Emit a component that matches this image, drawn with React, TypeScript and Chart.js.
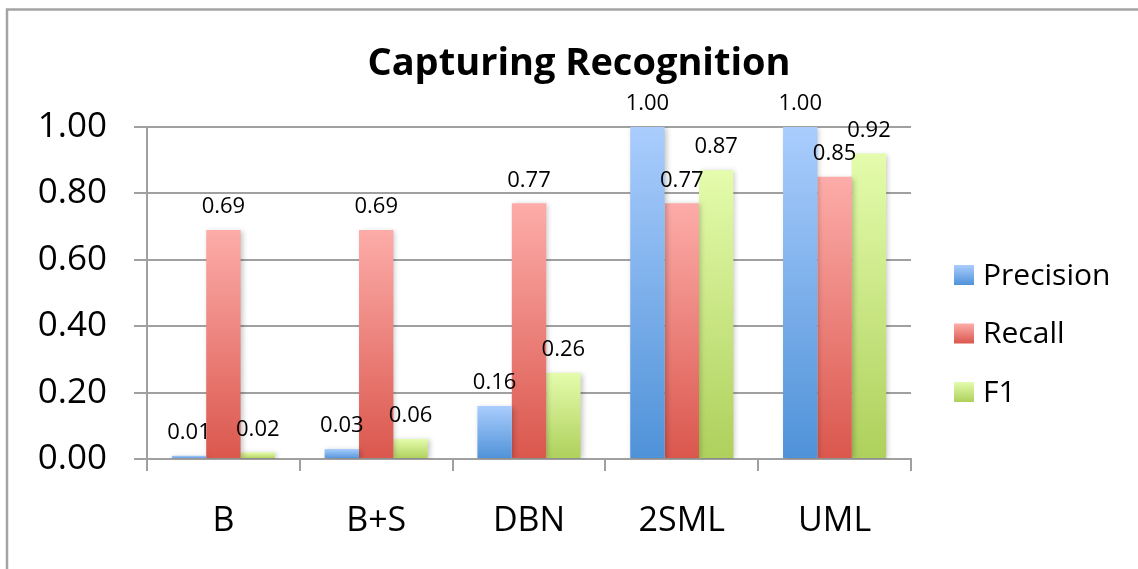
import React, { useEffect, useRef } from "react";
import { Chart, registerables } from "chart.js";

Chart.register(...registerables);

const categories = ["B", "B+S", "DBN", "2SML", "UML"];
const precision = [0.01, 0.03, 0.16, 1.0, 1.0];
const recall = [0.69, 0.69, 0.77, 0.77, 0.85];
const f1 = [0.02, 0.06, 0.26, 0.87, 0.92];
const seriesNames = ["Precision", "Recall", "F1"];
const yTicks = [0, 0.2, 0.4, 0.6, 0.8, 1.0];
const titleText = "Capturing Recognition";

const gradients: [string, string][] = [
  ["#aacdfd", "#4f92d8"],
  ["#fdaca9", "#da574d"],
  ["#e4fcac", "#aed05c"],
];

const FONT = '"Open Sans", "Noto Sans", sans-serif';
const GRID = "#a0a0a0";

function barFill(idx: number) {
  return (ctx: any) => {
    const chart = ctx.chart;
    const [top, bot] = gradients[idx];
    if (!chart.chartArea || ctx.type !== "data") return bot;
    const y = chart.scales.y;
    const y0 = y.getPixelForValue(ctx.raw);
    const y1 = y.getPixelForValue(0);
    if (Math.abs(y1 - y0) < 1) return top;
    const g = chart.ctx.createLinearGradient(0, y0, 0, y1);
    g.addColorStop(0, top);
    g.addColorStop(1, bot);
    return g;
  };
}

const framePlugin = {
  id: "frame",
  beforeDraw(chart: any) {
    const c = chart.ctx;
    c.save();
    c.fillStyle = "#ffffff";
    c.fillRect(0, 0, chart.width, chart.height);
    c.strokeStyle = "#a4a4a4";
    c.lineWidth = 2.5;
    c.strokeRect(7, 9.5, chart.width + 20, chart.height + 20);
    c.restore();
  },
  afterDraw(chart: any) {
    const c = chart.ctx;
    c.save();
    c.font = `bold 38px ${FONT}`;
    c.fillStyle = "#000";
    c.textAlign = "center";
    c.textBaseline = "alphabetic";
    c.fillText(titleText, chart.width / 2 + 10, 75);
    c.restore();
  },
};

const shadowPlugin = {
  id: "barShadow",
  beforeDatasetsDraw(chart: any) {
    const c = chart.ctx;
    c.save();
    c.shadowColor = "rgba(0,0,0,0.22)";
    c.shadowBlur = 5;
    c.shadowOffsetX = 2;
    c.shadowOffsetY = 1;
  },
  afterDatasetsDraw(chart: any) {
    chart.ctx.restore();
  },
};

const labelPlugin = {
  id: "valueLabels",
  afterDatasetsDraw(chart: any) {
    const c = chart.ctx;
    c.save();
    c.font = `22px ${FONT}`;
    c.fillStyle = "#000";
    c.textAlign = "center";
    c.textBaseline = "middle";
    chart.data.datasets.forEach((ds: any, i: number) => {
      const meta = chart.getDatasetMeta(i);
      meta.data.forEach((el: any, j: number) => {
        const v = ds.data[j] as number;
        c.fillText(v.toFixed(2), el.x, el.y - 23);
      });
    });
    c.restore();
  },
};

const legendPlugin = {
  id: "customLegend",
  afterDraw(chart: any) {
    const c = chart.ctx;
    const area = chart.chartArea;
    const x0 = area.right + 43;
    const yStart = area.top + 148;
    const gap = 58.5;
    c.save();
    c.font = `30px ${FONT}`;
    c.textBaseline = "middle";
    c.textAlign = "left";
    chart.data.datasets.forEach((ds: any, i: number) => {
      const cy = yStart + i * gap;
      const g = c.createLinearGradient(0, cy - 10, 0, cy + 10);
      g.addColorStop(0, gradients[i][0]);
      g.addColorStop(1, gradients[i][1]);
      c.fillStyle = g;
      c.fillRect(x0, cy - 10, 20, 20);
      c.fillStyle = "#000";
      c.fillText(ds.label, x0 + 29, cy + 1);
    });
    c.restore();
  },
};

export default function App() {
  const ref = useRef<HTMLCanvasElement | null>(null);

  useEffect(() => {
    let chart: Chart | null = null;
    let cancelled = false;
    const make = () => {
      if (cancelled || !ref.current) return;
      const values = [precision, recall, f1];
      chart = new Chart(ref.current, {
        type: "bar",
        data: {
          labels: categories,
          datasets: values.map((d, i) => ({
            label: seriesNames[i],
            data: d,
            backgroundColor: barFill(i),
            borderWidth: 0,
            categoryPercentage: 0.675,
            barPercentage: 1.0,
          })),
        },
        options: {
          animation: false,
          responsive: false,
          devicePixelRatio: 1,
          layout: { padding: { left: 20, right: 227, top: 127, bottom: 0 } },
          plugins: {
            legend: { display: false },
            tooltip: { enabled: false },
            title: { display: false },
          },
          scales: {
            x: {
              grid: {
                offset: true,
                drawOnChartArea: false,
                drawTicks: true,
                tickLength: 12,
                color: GRID,
                lineWidth: 2,
              },
              border: { display: true, color: GRID, width: 2 },
              ticks: {
                color: "#000",
                font: { family: FONT, size: 34 },
                padding: 30,
                maxRotation: 0,
              },
              afterFit: (s: any) => {
                s.height = 110;
              },
            },
            y: {
              min: 0,
              max: 1,
              afterBuildTicks: (s: any) => {
                s.ticks = yTicks.map((v) => ({ value: v }));
              },
              grid: {
                color: GRID,
                lineWidth: 2,
                drawTicks: true,
                tickLength: 13,
              },
              border: { display: true, color: GRID, width: 2 },
              ticks: {
                color: "#000",
                font: { family: FONT, size: 35 },
                padding: 27,
                callback: (v: any) => Number(v).toFixed(2),
              },
              afterFit: (s: any) => {
                s.width = 127;
              },
            },
          },
        },
        plugins: [framePlugin, shadowPlugin, labelPlugin, legendPlugin],
      });
    };
    const fonts = (document as any).fonts;
    if (fonts && fonts.load) {
      Promise.all([
        fonts.load(`22px "Open Sans"`),
        fonts.load(`bold 38px "Open Sans"`),
      ])
        .catch(() => null)
        .then(make);
    } else make();
    return () => {
      cancelled = true;
      if (chart) chart.destroy();
    };
  }, []);

  return (
    <div
      style={{
        position: "fixed",
        left: 0,
        top: 0,
        width: 1138,
        height: 569,
        overflow: "hidden",
        background: "#fff",
      }}
    >
      <canvas ref={ref} width={1138} height={569} style={{ display: "block" }} />
    </div>
  );
}
